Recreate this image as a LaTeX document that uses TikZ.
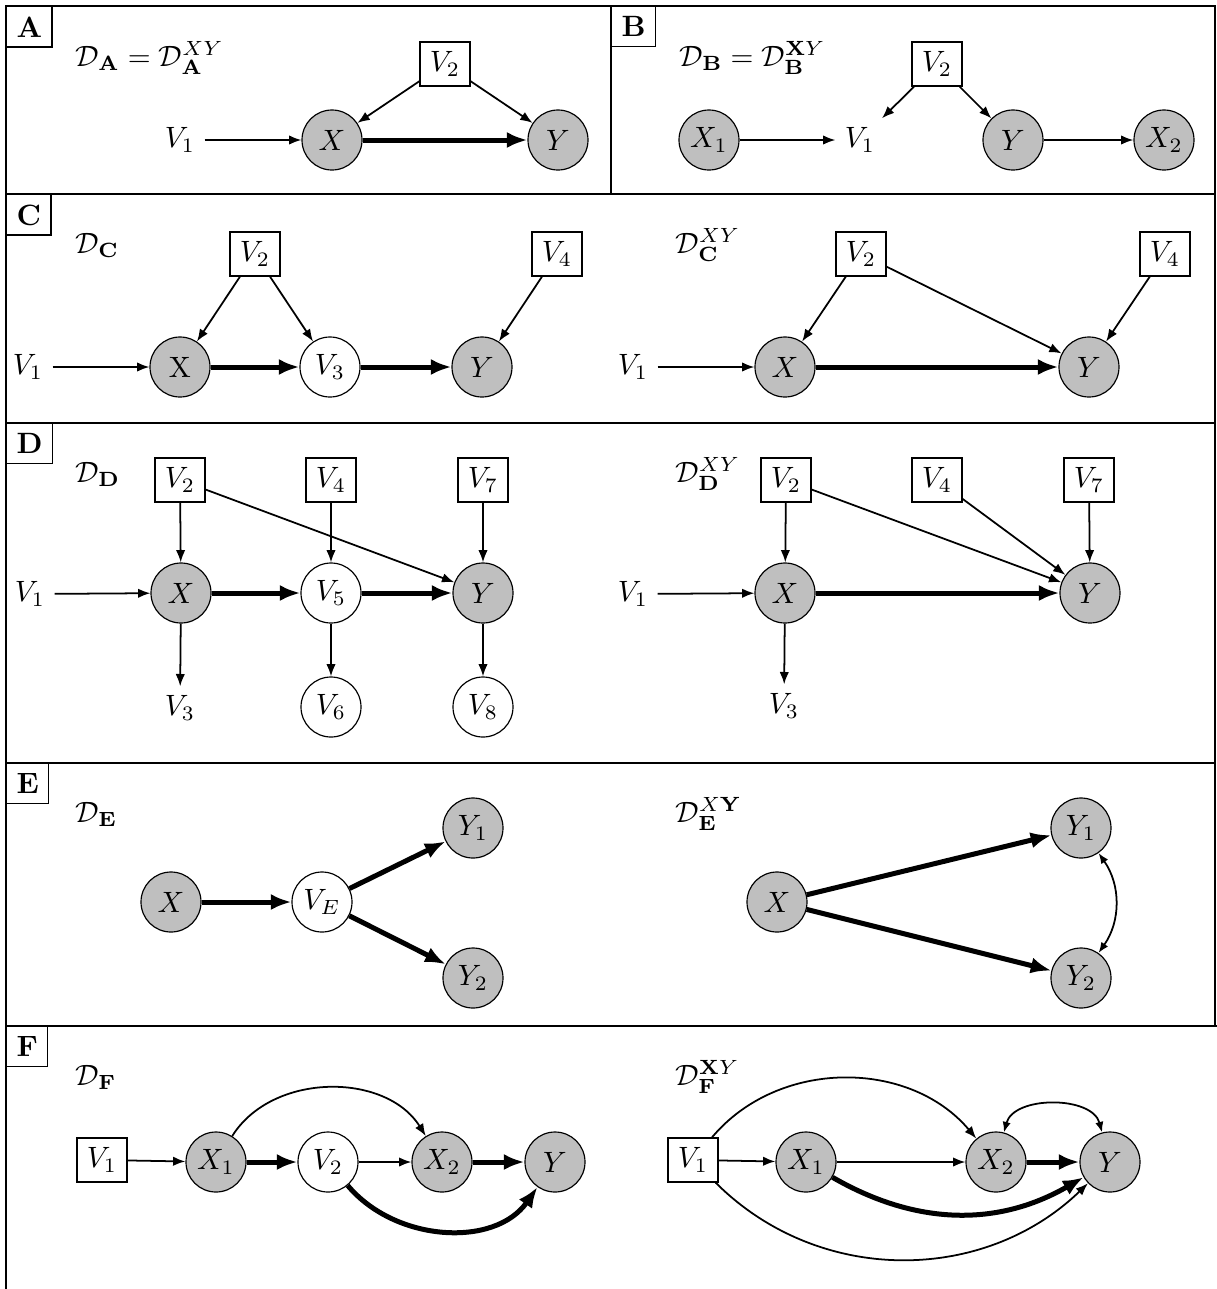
\documentclass[tikz,border=0pt]{standalone}
\usetikzlibrary{arrows.meta}
\begin{document}
\begin{tikzpicture}[x=0.34pt,y=-0.34pt,
  obs/.style={circle, draw, fill=gray!50, minimum size=20.4pt, inner sep=0pt, line width=0.4pt},
  lat/.style={circle, draw, fill=white, minimum size=20.4pt, inner sep=0pt, line width=0.4pt},
  boxn/.style={rectangle, draw, fill=white, line width=0.4pt},
  freen/.style={inner sep=3pt},
  tag/.style={draw, anchor=north west, font=\bfseries, line width=0.5pt},
  form/.style={anchor=base west, inner sep=0pt},
  tarr/.style={line width=0.6pt, -{Latex[length=4.2pt,width=3.2pt]}},
  karr/.style={line width=1.7pt, -{Latex[length=7pt,width=5.5pt]}},
  barr/.style={line width=0.6pt, {Latex[length=3.6pt,width=2.8pt]}-{Latex[length=3.6pt,width=2.8pt]}},
  frame/.style={line width=0.6pt}]
\useasboundingbox (0,0) rectangle (1217,1289);
% frames
\draw[frame] (6,1289) -- (6,6) -- (1215,6) -- (1215,1026);
\draw[frame] (6,194) -- (1215,194);
\draw[frame] (6,423) -- (1215,423);
\draw[frame] (6,763) -- (1215,763);
\draw[frame] (6,1026) -- (1217,1026);
\draw[frame] (611,6) -- (611,194);
% ---------------- A
\node[tag] (tA) at (6,6) {A};
\node[form] (fA) at (75,66) {$\mathcal{D}_{\mathbf{A}} = \mathcal{D}^{XY}_{\mathbf{A}}$};
\node[freen] (a1) at (180,140) {$V_1$};
\node[obs] (aX) at (332,140) {$X$};
\node[obs] (aY) at (558,140) {$Y$};
\node[boxn] (a2) at (445,64) {$V_2$};
\draw[tarr] (a1) -- (aX);
\draw[karr] (aX) -- (aY);
\draw[tarr] (a2) -- (aX);
\draw[tarr] (a2) -- (aY);
% ---------------- B
\node[tag] (tB) at (611,6) {B};
\node[form] (fB) at (679,66) {$\mathcal{D}_{\mathbf{B}} = \mathcal{D}^{\mathbf{X}Y}_{\mathbf{B}}$};
\node[obs] (bX1) at (709,140) {$X_1$};
\node[freen] (b1) at (860,140) {$V_1$};
\node[boxn] (b2) at (937,64) {$V_2$};
\node[obs] (bY) at (1013,140) {$Y$};
\node[obs] (bX2) at (1164,140) {$X_2$};
\draw[tarr] (bX1) -- (b1);
\draw[tarr] (b2) -- (b1);
\draw[tarr] (b2) -- (bY);
\draw[tarr] (bY) -- (bX2);
% ---------------- C left
\node[tag] (tC) at (6,194) {C};
\node[form] (fC) at (75,253) {$\mathcal{D}_{\mathbf{C}}$};
\node[freen] (c1) at (28,367) {$V_1$};
\node[obs] (cX) at (180,367) {X};
\node[lat] (c3) at (330,367) {$V_3$};
\node[obs] (cY) at (482,367) {$Y$};
\node[boxn] (c2) at (255,254) {$V_2$};
\node[boxn] (c4) at (557,254) {$V_4$};
\draw[tarr] (c1) -- (cX);
\draw[karr] (cX) -- (c3);
\draw[karr] (c3) -- (cY);
\draw[tarr] (c2) -- (cX);
\draw[tarr] (c2) -- (c3);
\draw[tarr] (c4) -- (cY);
% ---------------- C right
\node[form] (fCr) at (675,253) {$\mathcal{D}^{XY}_{\mathbf{C}}$};
\node[freen] (c1r) at (633,367) {$V_1$};
\node[obs] (cXr) at (785,367) {$X$};
\node[obs] (cYr) at (1089,367) {$Y$};
\node[boxn] (c2r) at (861,254) {$V_2$};
\node[boxn] (c4r) at (1165,254) {$V_4$};
\draw[tarr] (c1r) -- (cXr);
\draw[karr] (cXr) -- (cYr);
\draw[tarr] (c2r) -- (cXr);
\draw[tarr] (c2r) -- (cYr);
\draw[tarr] (c4r) -- (cYr);
% ---------------- D left
\node[tag] (tD) at (6,423) {D};
\node[form] (fD) at (75,482) {$\mathcal{D}_{\mathbf{D}}$};
\node[freen] (d1) at (30,594) {$V_1$};
\node[obs] (dX) at (181,593) {$X$};
\node[lat] (d5) at (331,593) {$V_5$};
\node[obs] (dY) at (483,593) {$Y$};
\node[boxn] (d2) at (180,480) {$V_2$};
\node[boxn] (d4) at (331,480) {$V_4$};
\node[boxn] (d7) at (483,480) {$V_7$};
\node[freen] (d3) at (180,708) {$V_3$};
\node[lat] (d6) at (331,707) {$V_6$};
\node[lat] (d8) at (483,707) {$V_8$};
\draw[tarr] (d1) -- (dX);
\draw[karr] (dX) -- (d5);
\draw[karr] (d5) -- (dY);
\draw[tarr] (d2) -- (dX);
\draw[tarr] (d4) -- (d5);
\draw[tarr] (d7) -- (dY);
\draw[tarr] (d2) -- (dY);
\draw[tarr] (dX) -- (d3);
\draw[tarr] (d5) -- (d6);
\draw[tarr] (dY) -- (d8);
% ---------------- D right
\node[form] (fDr) at (675,482) {$\mathcal{D}^{XY}_{\mathbf{D}}$};
\node[freen] (d1r) at (633,594) {$V_1$};
\node[obs] (dXr) at (785,593) {$X$};
\node[obs] (dYr) at (1090,593) {$Y$};
\node[boxn] (d2r) at (786,480) {$V_2$};
\node[boxn] (d4r) at (937,480) {$V_4$};
\node[boxn] (d7r) at (1089,480) {$V_7$};
\node[freen] (d3r) at (784,706) {$V_3$};
\draw[tarr] (d1r) -- (dXr);
\draw[karr] (dXr) -- (dYr);
\draw[tarr] (d2r) -- (dXr);
\draw[tarr] (d2r) -- (dYr);
\draw[tarr] (d4r) -- (dYr);
\draw[tarr] (d7r) -- (dYr);
\draw[tarr] (dXr) -- (d3r);
% ---------------- E left
\node[tag] (tE) at (6,763) {E};
\node[form] (fE) at (75,822) {$\mathcal{D}_{\mathbf{E}}$};
\node[obs] (eX) at (171,902) {$X$};
\node[lat] (eV) at (322,902) {$V_E$};
\node[obs] (eY1) at (473,828) {$Y_1$};
\node[obs] (eY2) at (473,978) {$Y_2$};
\draw[karr] (eX) -- (eV);
\draw[karr] (eV) -- (eY1);
\draw[karr] (eV) -- (eY2);
% ---------------- E right
\node[form] (fEr) at (675,822) {$\mathcal{D}^{X\mathbf{Y}}_{\mathbf{E}}$};
\node[obs] (eXr) at (777,902) {$X$};
\node[obs] (eY1r) at (1081,828) {$Y_1$};
\node[obs] (eY2r) at (1081,978) {$Y_2$};
\draw[karr] (eXr) -- (eY1r);
\draw[karr] (eXr) -- (eY2r);
\draw[barr] (eY1r) to[bend left=35] (eY2r);
% ---------------- F left
\node[tag] (tF) at (6,1026) {F};
\node[form] (fF) at (75,1085) {$\mathcal{D}_{\mathbf{F}}$};
\node[boxn] (f1) at (102,1160) {$V_1$};
\node[obs] (fX1) at (216,1162) {$X_1$};
\node[lat] (fV2) at (328,1162) {$V_2$};
\node[obs] (fX2) at (442,1162) {$X_2$};
\node[obs] (fY) at (555,1162) {$Y$};
\draw[tarr] (f1) -- (fX1);
\draw[karr] (fX1) -- (fV2);
\draw[tarr] (fV2) -- (fX2);
\draw[karr] (fX2) -- (fY);
\draw[tarr] (fX1) to[out=58,in=122] (fX2);
\draw[karr] (fV2) to[out=-50,in=235] (fY);
% ---------------- F right
\node[form] (fFr) at (675,1085) {$\mathcal{D}^{\mathbf{X}Y}_{\mathbf{F}}$};
\node[boxn] (f1r) at (693,1160) {$V_1$};
\node[obs] (fX1r) at (806,1162) {$X_1$};
\node[obs] (fX2r) at (996,1162) {$X_2$};
\node[obs] (fYr) at (1110,1162) {$Y$};
\draw[tarr] (f1r) -- (fX1r);
\draw[tarr] (fX1r) -- (fX2r);
\draw[karr] (fX2r) -- (fYr);
\draw[karr] (fX1r) to[out=-30,in=210] (fYr);
\draw[tarr] (f1r) to[out=50,in=130] (fX2r);
\draw[tarr] (f1r) to[out=-45,in=224] (fYr);
\draw[barr] (fX2r) to[out=75,in=105] (fYr);
\end{tikzpicture}
\end{document}
